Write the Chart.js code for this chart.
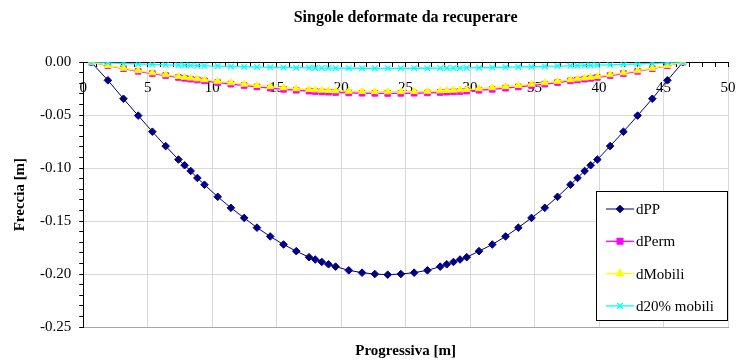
<!DOCTYPE html>
<html>
<head>
<meta charset="utf-8">
<script src="https://cdn.jsdelivr.net/npm/chart.js@4.4.1/dist/chart.umd.min.js"></script>
<style>
  html, body { margin: 0; padding: 0; background: #fff; }
</style>
</head>
<body>
<canvas id="deformChart" width="741" height="361"></canvas>
<script>
// progressive along the beam [m]
const progressiva = [0.62, 1.91, 3.12, 4.26, 5.36, 6.39, 7.38, 7.86, 8.33, 8.85, 9.40, 10.43, 11.45, 12.48,
  13.47, 14.50, 15.53, 16.52, 17.51, 17.99, 18.50, 19.02, 19.57, 20.59, 21.62, 22.61, 23.61, 24.63, 25.66,
  26.69, 27.68, 28.19, 28.71, 29.22, 29.74, 30.69, 31.72, 32.75, 33.74, 34.76, 35.79, 36.78, 37.78, 38.33,
  38.88, 39.35, 39.87, 40.86, 41.89, 42.99, 44.13, 45.30, 46.51];

const dPP = [0, -0.0171, -0.0345, -0.0504, -0.0656, -0.0792, -0.0919, -0.0973, -0.1027, -0.1093, -0.1157,
  -0.1271, -0.1375, -0.1470, -0.1562, -0.1645, -0.1721, -0.1784, -0.1841, -0.1863, -0.1886, -0.1908, -0.1930,
  -0.1965, -0.1987, -0.2000, -0.2006, -0.2000, -0.1987, -0.1965, -0.1930, -0.1908, -0.1886, -0.1863, -0.1841,
  -0.1784, -0.1721, -0.1645, -0.1562, -0.1470, -0.1375, -0.1271, -0.1157, -0.1093, -0.1027, -0.0973, -0.0919,
  -0.0792, -0.0656, -0.0504, -0.0345, -0.0171, 0];

const dPerm = [0, -0.0032, -0.0061, -0.0086, -0.0107, -0.0126, -0.0144, -0.0152, -0.0160, -0.0168, -0.0176,
  -0.0192, -0.0207, -0.0220, -0.0233, -0.0245, -0.0256, -0.0265, -0.0273, -0.0277, -0.0280, -0.0283, -0.0286,
  -0.0290, -0.0293, -0.0294, -0.0295, -0.0294, -0.0293, -0.0290, -0.0286, -0.0283, -0.0280, -0.0277, -0.0273,
  -0.0265, -0.0256, -0.0245, -0.0233, -0.0220, -0.0207, -0.0192, -0.0176, -0.0168, -0.0160, -0.0152, -0.0144,
  -0.0126, -0.0107, -0.0086, -0.0061, -0.0032, 0];

const dMobili = [0, -0.0030, -0.0057, -0.0080, -0.0100, -0.0118, -0.0135, -0.0142, -0.0149, -0.0157, -0.0165,
  -0.0180, -0.0194, -0.0207, -0.0220, -0.0231, -0.0241, -0.0250, -0.0258, -0.0261, -0.0264, -0.0267, -0.0270,
  -0.0274, -0.0277, -0.0278, -0.0279, -0.0278, -0.0277, -0.0274, -0.0270, -0.0267, -0.0264, -0.0261, -0.0258,
  -0.0250, -0.0241, -0.0231, -0.0220, -0.0207, -0.0194, -0.0180, -0.0165, -0.0157, -0.0149, -0.0142, -0.0135,
  -0.0118, -0.0100, -0.0080, -0.0057, -0.0030, 0];

const d20Mobili = [0, -0.0006, -0.0012, -0.0017, -0.0021, -0.0025, -0.0028, -0.0030, -0.0031, -0.0033, -0.0034,
  -0.0037, -0.0040, -0.0043, -0.0045, -0.0048, -0.0050, -0.0052, -0.0053, -0.0054, -0.0055, -0.0055, -0.0056,
  -0.0057, -0.0057, -0.0058, -0.0058, -0.0058, -0.0057, -0.0057, -0.0056, -0.0055, -0.0055, -0.0054, -0.0053,
  -0.0052, -0.0050, -0.0048, -0.0045, -0.0043, -0.0040, -0.0037, -0.0034, -0.0033, -0.0031, -0.0030, -0.0028,
  -0.0025, -0.0021, -0.0017, -0.0012, -0.0006, 0];

const seriesNames = ['dPP', 'dPerm', 'dMobili', 'd20% mobili'];

const serif = "'Liberation Serif', 'Times New Roman', serif";

function pts(ys) {
  return progressiva.map(function(x, i) { return {x: x, y: ys[i]}; });
}

function isMajorY(v) {
  return Math.round(v * 100) % 5 === 0;
}

// legend box drawn inside the plot, bottom right
const legendBox = {
  id: 'legendBox',
  afterDraw(chart) {
    const ctx = chart.ctx;
    const area = chart.chartArea;
    const w = 131, h = 129;
    const x0 = area.right - w - 1, y0 = area.bottom - h - 7;
    ctx.save();
    ctx.fillStyle = '#fff';
    ctx.fillRect(x0, y0, w, h);
    ctx.strokeStyle = '#000';
    ctx.lineWidth = 1;
    ctx.strokeRect(x0 + 0.5, y0 + 0.5, w, h);
    ctx.font = '15px ' + serif;
    ctx.textBaseline = 'middle';
    chart.data.datasets.forEach(function(ds, i) {
      const y = y0 + 18 + i * 32.3;
      ctx.strokeStyle = ds.borderColor;
      ctx.lineWidth = ds.borderWidth;
      ctx.beginPath();
      ctx.moveTo(x0 + 10, y);
      ctx.lineTo(x0 + 38, y);
      ctx.stroke();
      ctx.fillStyle = ds.pointBackgroundColor;
      ctx.strokeStyle = ds.pointBorderColor;
      Chart.helpers.drawPoint(ctx, {
        pointStyle: ds.pointStyle,
        radius: ds.pointRadius,
        rotation: 0,
        borderWidth: ds.pointBorderWidth
      }, x0 + 24, y);
      ctx.fillStyle = '#000';
      ctx.fillText(ds.label, x0 + 40, y + 1);
    });
    ctx.restore();
  }
};

new Chart('deformChart', {
  type: 'line',
  data: {
    datasets: [{
      label: seriesNames[0],
      data: pts(dPP),
      borderColor: '#000080',
      borderWidth: 1,
      pointStyle: 'rectRot',
      pointRadius: 3.8,
      pointBackgroundColor: '#000080',
      pointBorderColor: '#000080',
      pointBorderWidth: 1,
      order: 3
    }, {
      label: seriesNames[1],
      data: pts(dPerm),
      borderColor: '#FF00FF',
      borderWidth: 1.3,
      pointStyle: 'rect',
      pointRadius: 4,
      pointBackgroundColor: '#FF00FF',
      pointBorderColor: '#FF00FF',
      pointBorderWidth: 1,
      order: 2
    }, {
      label: seriesNames[2],
      data: pts(dMobili),
      borderColor: '#FFFF00',
      borderWidth: 1.3,
      pointStyle: 'triangle',
      pointRadius: 4,
      pointBackgroundColor: '#FFFF00',
      pointBorderColor: '#FFFF00',
      pointBorderWidth: 1,
      order: 1
    }, {
      label: seriesNames[3],
      data: pts(d20Mobili),
      borderColor: '#00FFFF',
      borderWidth: 1.3,
      pointStyle: 'crossRot',
      pointRadius: 4,
      pointBackgroundColor: '#00FFFF',
      pointBorderColor: '#00FFFF',
      pointBorderWidth: 1.2,
      order: 0
    }]
  },
  options: {
    responsive: false,
    animation: false,
    devicePixelRatio: 1,
    layout: { padding: { left: 11, right: 13, top: 0, bottom: 1 } },
    plugins: {
      legend: { display: false },
      tooltip: { enabled: false },
      title: {
        display: true,
        fullSize: false,
        text: 'Singole deformate da recuperare',
        color: '#000',
        font: { family: serif, size: 16, weight: 'bold' },
        padding: { top: 8, bottom: 35 }
      }
    },
    scales: {
      x: {
        type: 'linear',
        position: 'bottom',
        min: 0,
        max: 50,
        ticks: { display: false, stepSize: 5 },
        grid: { color: '#d9d9d9', drawTicks: false },
        border: { color: '#a6a6a6' },
        title: {
          display: true,
          text: 'Progressiva [m]',
          color: '#000',
          font: { family: serif, size: 15, weight: 'bold' },
          padding: { top: 15, bottom: 0 }
        }
      },
      xZero: {
        type: 'linear',
        axis: 'x',
        position: { y: 0 },
        min: 0,
        max: 50,
        ticks: {
          stepSize: 1,
          autoSkip: false,
          maxRotation: 0,
          padding: 13,
          color: '#000',
          font: { family: serif, size: 15 },
          callback: function(v) { return v % 5 === 0 ? String(v) : ''; }
        },
        grid: { drawOnChartArea: false, tickLength: 4, tickColor: '#000' },
        border: { color: '#000' },
        // the axis sits on y = 0, so its label overhang must not shrink the plot
        afterFit: function(scale) {
          scale.paddingLeft = 0;
          scale.paddingRight = 0;
        }
      },
      y: {
        min: -0.25,
        max: 0,
        ticks: {
          stepSize: 0.01,
          autoSkip: false,
          padding: 8,
          color: '#000',
          font: { family: serif, size: 15 },
          callback: function(v) { return isMajorY(v) ? v.toFixed(2) : ''; }
        },
        grid: {
          color: function(c) {
            if (c.tick && c.tick.value === 0) return '#000';
            return c.tick && isMajorY(c.tick.value) ? '#d9d9d9' : 'rgba(0,0,0,0)';
          },
          tickColor: '#000',
          tickLength: 4
        },
        border: { color: '#000' },
        title: {
          display: true,
          text: 'Freccia [m]',
          color: '#000',
          font: { family: serif, size: 15, weight: 'bold' },
          padding: { top: 0, bottom: 3 }
        }
      }
    }
  },
  plugins: [legendBox]
});
</script>
</body>
</html>
